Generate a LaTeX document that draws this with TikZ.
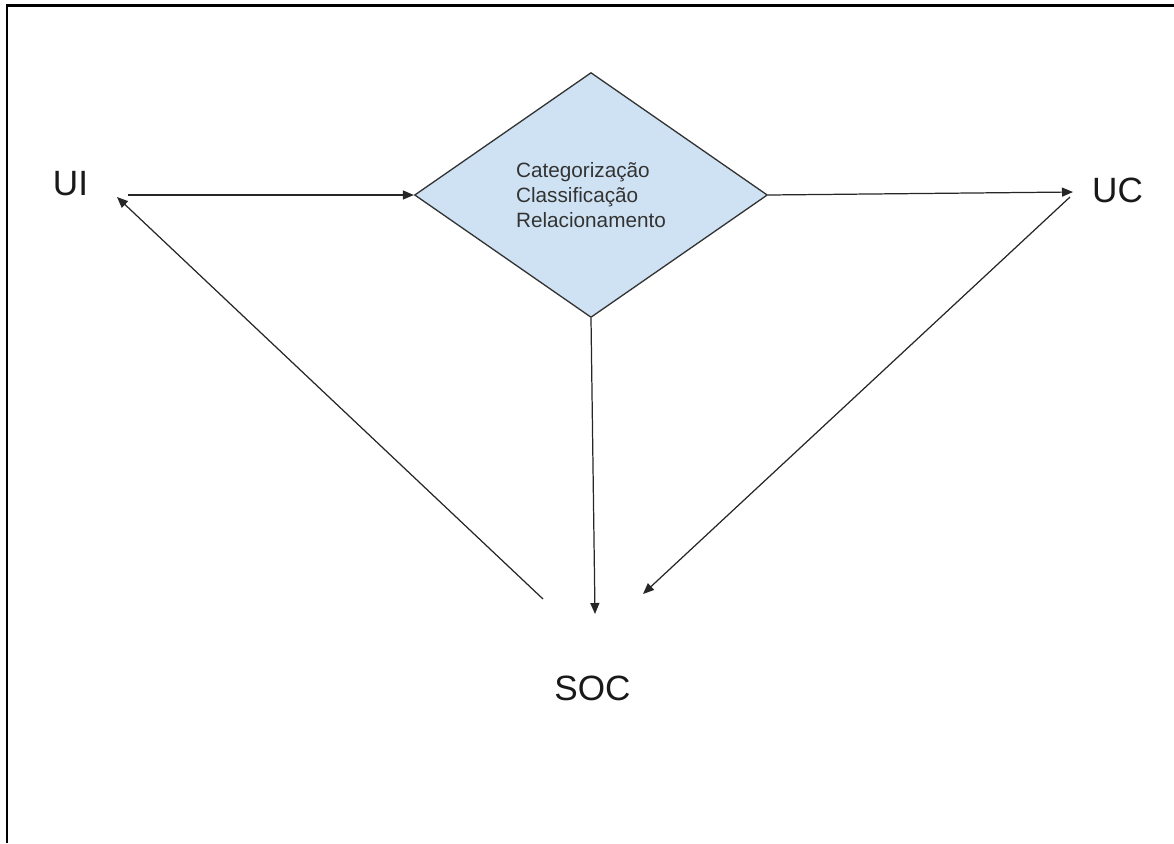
\documentclass[tikz,border=0pt]{standalone}
\usepackage{fontspec}
\setmainfont{Liberation Sans}
\usetikzlibrary{shapes.geometric,arrows.meta}

\definecolor{diagblue}{HTML}{CFE2F3}

\tikzset{
    term/.style={font=\fontsize{20}{24}\selectfont, text=black!90, inner sep=0pt, anchor=base},
    procbox/.style={diamond, draw=black!80, fill=diagblue, line width=0.75pt,
        minimum width=7.06cm, minimum height=4.9cm, inner sep=0pt,
        align=left, text=black!80, font=\fontsize{11.8}{14.2}\selectfont},
    arr/.style={draw=black!85, line width=0.7pt, -{Triangle[length=0.22cm,width=0.18cm]}}
}

\begin{document}
\begin{tikzpicture}[x=0.02cm, y=-0.02cm]
    \useasboundingbox (0,0) rectangle (1174,843);

    % Frame (top and left edges only)
    \draw[line width=0.05cm] (7,843) -- (7,5.3) -- (1174,5.3);

    % Central diamond
    \node[procbox] (proc) at (591,195) {Categorização\\Classificação\\Relacionamento};

    % Terms
    \node[term] (ui) at (70.5,195) {UI};
    \node[term] (uc) at (1117.5,202) {UC};
    \node[term] (soc) at (592.5,700) {SOC};

    % Free ends of the connectors
    \coordinate (ui-out) at (128,195);
    \coordinate (ui-in) at (117,197);
    \coordinate (uc-in) at (1073,192);
    \coordinate (uc-out) at (1070,197);
    \coordinate (soc-in) at (595,614);
    \coordinate (soc-in-r) at (643,594);
    \coordinate (soc-out) at (543,599);

    % Connectors
    \draw[arr] (ui-out) -- (proc.west);
    \draw[arr] (proc.east) -- (uc-in);
    \draw[arr] (proc.south) -- (soc-in);
    \draw[arr] (uc-out) -- (soc-in-r);
    \draw[arr] (soc-out) -- (ui-in);
\end{tikzpicture}
\end{document}
